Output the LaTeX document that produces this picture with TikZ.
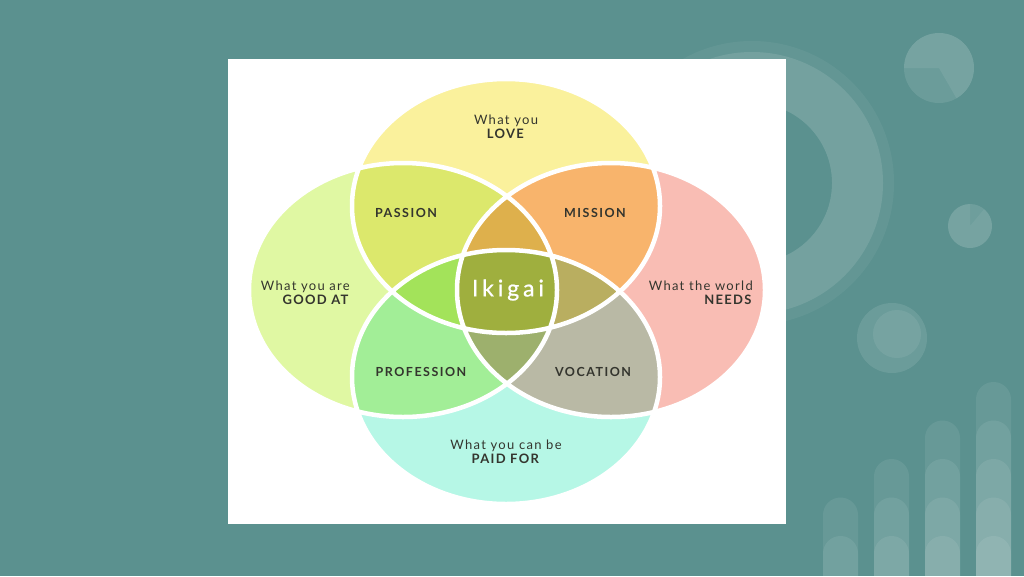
\documentclass[tikz,border=0pt]{standalone}
\usepackage{fontspec}
\setmainfont{Lato}
\newfontfamily\lblfont[LetterSpace=10]{Lato}
\newfontfamily\keyfont[LetterSpace=12]{Lato}
\newfontfamily\corefont[LetterSpace=17, FakeBold=0.8]{Lato}
\usepackage{tikz}

\definecolor{bgteal}{HTML}{5B918F}
\definecolor{ink}{HTML}{34352E}
\definecolor{cLove}{HTML}{FAF19C}
\definecolor{cGood}{HTML}{E0F8A3}
\definecolor{cNeeds}{HTML}{F9BDB4}
\definecolor{cPaid}{HTML}{B6F7E6}
\definecolor{cPassion}{HTML}{DCE86C}
\definecolor{cMission}{HTML}{F8B46C}
\definecolor{cProf}{HTML}{A2EE97}
\definecolor{cVoc}{HTML}{B9B9A5}
\definecolor{cPetT}{HTML}{DEB04C}
\definecolor{cPetL}{HTML}{A3E35A}
\definecolor{cPetR}{HTML}{B9AE60}
\definecolor{cPetB}{HTML}{9DB06D}
\definecolor{cCore}{HTML}{9FAF3E}

\def\pTop{(506,206) ellipse [x radius=154, y radius=127]}
\def\pBot{(506,377) ellipse [x radius=154, y radius=127]}
\def\pLeft{(403,290) ellipse [x radius=154, y radius=127]}
\def\pRight{(611,290) ellipse [x radius=154, y radius=127]}

\begin{document}
\begin{tikzpicture}[x=1pt, y=-1pt,
  txt/.style={font=\lblfont\fontsize{13}{13.5}\selectfont, text=ink, inner sep=0pt, align=center},
  key/.style={txt, font=\keyfont\bfseries\fontsize{12.5}{13.5}\selectfont},
  deco/.style={fill=white, fill opacity=#1},
  rim/.style={draw=white, line width=4.5pt}]
\useasboundingbox (0,0) rectangle (1024,576);
\clip (0,0) rectangle (1024,576);
\fill[bgteal] (0,0) rectangle (1024,576);
\fill[deco=0.05, even odd rule] (752,183) circle (142) (752,183) circle (80);
\fill[deco=0.11, even odd rule] (752,183) circle (131) (752,183) circle (80);
\fill[deco=0.1] (939,68) circle (35);
\fill[deco=0.08] (939,68) -- ++(180:35) arc (180:420:35) -- cycle;
\fill[deco=0.12] (970,226) circle (22);
\fill[deco=0.06] (970,226) -- ++(-50:22) arc (-50:270:22) -- cycle;
\fill[deco=0.1] (892,338) circle (35);
\fill[deco=0.08] (897,334) circle (24);
\foreach \x/\n in {823/2, 874/3, 925/4, 976/5}
  \foreach \k in {1,...,\n}
    \fill[deco=0.08, rounded corners=17.5pt] (\x,{536-38.5*(\k-1)}) rectangle (\x+35,620);
\fill[white] (228,59) rectangle (786,524);
\fill[cLove] \pTop;
\fill[cGood] \pLeft;
\fill[cNeeds] \pRight;
\fill[cPaid] \pBot;
\begin{scope}
  \clip \pTop;
  \fill[cPassion] \pLeft;
  \fill[cMission] \pRight;
\end{scope}
\begin{scope}
  \clip \pBot;
  \fill[cProf] \pLeft;
  \fill[cVoc] \pRight;
\end{scope}
\begin{scope}
  \clip \pLeft; \clip \pRight;
  \fill[cPetT] \pTop;
  \fill[cPetB] \pBot;
\end{scope}
\begin{scope}
  \clip \pTop; \clip \pBot;
  \fill[cPetL] \pLeft;
  \fill[cPetR] \pRight;
\end{scope}
\begin{scope}
  \clip \pTop; \clip \pBot; \clip \pLeft;
  \fill[cCore] \pRight;
\end{scope}
\draw[rim] \pTop \pBot \pLeft \pRight;
\node[txt] (love) at (506,127) {What you\\\textbf{LOVE}};
\node[txt, align=right, anchor=east] (good) at (350,293) {What you are\\\textbf{GOOD AT}};
\node[txt, align=right, anchor=east] (needs) at (753,293) {What the world\\\textbf{NEEDS}};
\node[txt] (paid) at (506,452) {What you can be\\\textbf{PAID FOR}};
\node[key] (passion) at (406,213) {PASSION};
\node[key] (mission) at (595,213) {MISSION};
\node[key] (profession) at (421,372) {PROFESSION};
\node[key] (vocation) at (593,372) {VOCATION};
\node[font=\corefont\fontsize{23}{24}\selectfont, text=white, inner sep=0pt] (ikigai) at (508,290) {Ikigai};
\end{tikzpicture}
\end{document}
